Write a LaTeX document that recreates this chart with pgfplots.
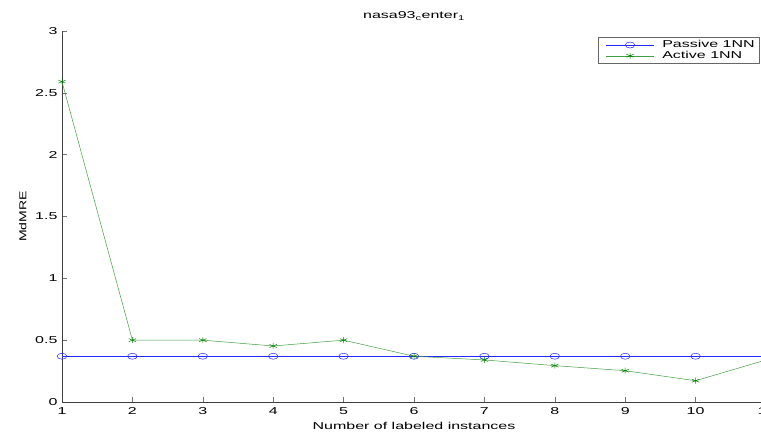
\documentclass[border=0pt]{standalone}
\usepackage{fontspec}
\setmainfont{Liberation Sans}
\newfontfamily\mfont[FakeStretch=1.6]{Liberation Sans}
\newfontfamily\yfont[FakeStretch=1.4]{Liberation Sans}
\usepackage{pgfplots}
\pgfplotsset{compat=1.18}
\definecolor{mgreen}{rgb}{0,0.5,0}
\begin{document}
\begin{tikzpicture}[x=1pt,y=1pt]
\begin{axis}[
  at={(62pt,35pt)}, anchor=south west,
  scale only axis, width=704pt, height=371pt,
  xmin=1, xmax=11, ymin=0, ymax=3,
  axis x line*=bottom, axis y line*=left,
  axis line style={black!75, line width=0.6pt},
  xtick={1,2,...,11}, ytick={0,0.5,1,1.5,2,2.5,3},
  yticklabels={0,0.5,1,1.5,2,2.5,3},
  xticklabels={1,2,3,4,5,6,7,8,9,10,11},
  tick align=inside, major tick length=5pt,
  tick style={black!55, line width=0.6pt},
  every tick label/.append style={font=\mfont\fontsize{10}{12}\selectfont},
  xticklabel style={yshift=-2pt},
  yticklabel style={xshift=-1pt},
  xlabel={Number of labeled instances}, ylabel={MdMRE},
  xlabel style={font=\mfont\fontsize{10}{12}\selectfont, yshift=-1pt},
  ylabel style={font=\yfont\fontsize{10}{12}\selectfont, yshift=2pt},
  title={nasa93\textsubscript{c}enter\textsubscript{1}},
  title style={font=\mfont\fontsize{10}{12}\selectfont, yshift=1pt},
  legend style={at={(0.990,0.984)}, anchor=north east, font=\mfont\fontsize{10}{12}\selectfont,
    draw=black!60, inner xsep=2pt, inner ysep=1.5pt, row sep=-2pt, legend cell align=left},
  legend image code/.code={%
    \path (0pt,0pt) (60pt,0pt);
    \draw[mark=none] (6pt,0pt) -- (54pt,0pt);
    \draw plot[only marks] coordinates {(30pt,0pt)};},
  clip=false,
]
\addplot[blue!85!white, line width=0.5pt, mark=o, mark size=3pt, mark options={xscale=1.6, line width=0.5pt}]
  coordinates {(1,0.37)(2,0.37)(3,0.37)(4,0.37)(5,0.37)(6,0.37)(7,0.37)(8,0.37)(9,0.37)(10,0.37)(11,0.37)};
\addlegendentry{Passive 1NN}
\addplot[mgreen!75!white, line width=0.5pt, mark=asterisk, mark size=3pt, mark options={xscale=1.4, mgreen, line width=0.5pt}]
  coordinates {(1,2.59)(2,0.50)(3,0.50)(4,0.453)(5,0.50)(6,0.37)(7,0.34)(8,0.294)(9,0.253)(10,0.172)(11,0.34)};
\addlegendentry{Active 1NN}
\end{axis}
\pgfresetboundingbox
\useasboundingbox (0,0) rectangle (761,437);
\end{tikzpicture}
\end{document}
